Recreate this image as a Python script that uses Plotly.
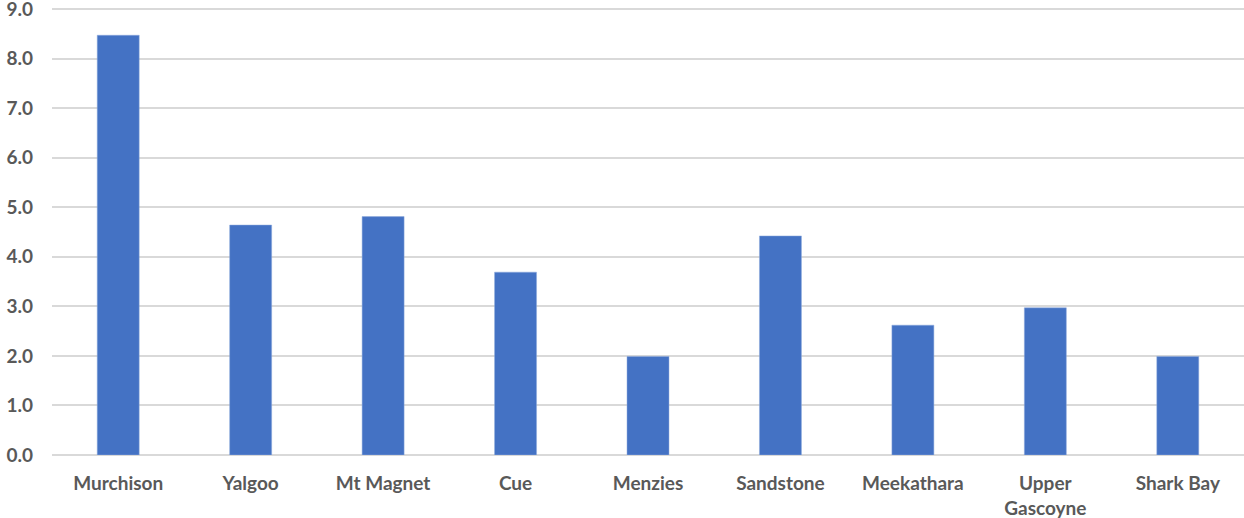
import plotly.graph_objects as go

categories = ["Murchison", "Yalgoo", "Mt Magnet", "Cue", "Menzies", "Sandstone",
              "Meekathara", "Upper<br>Gascoyne", "Shark Bay"]
values = [8.47, 4.64, 4.81, 3.69, 1.99, 4.42, 2.62, 2.97, 1.99]
y_ticks = [0, 1, 2, 3, 4, 5, 6, 7, 8, 9]

fig = go.Figure(go.Bar(
    x=categories, y=values,
    marker=dict(color="#4472C4", line=dict(color="#8faadc", width=0.5)),
))

tf = dict(family="Lato, sans-serif", size=19, color="#595959", weight="bold")
fig.update_layout(
    width=1244, height=518,
    margin=dict(l=52, r=0, t=6, b=63),
    paper_bgcolor="white", plot_bgcolor="white",
    bargap=0.683,
    showlegend=False,
)
fig.update_yaxes(
    range=[0, 9.06], tickvals=y_ticks, ticktext=[f"{v:.1f}" for v in y_ticks],
    showgrid=True, gridcolor="#D9D9D9", gridwidth=1.5,
    zeroline=True, zerolinecolor="#D9D9D9", zerolinewidth=1.5,
    showline=False, ticks="", ticklabelstandoff=18, automargin=False,
    ticklabeloverflow="allow",
    tickfont=tf,
)
fig.update_xaxes(
    showgrid=False, showline=False, ticks="", automargin=False,
    ticklabelstandoff=15, ticklabeloverflow="allow",
    tickfont=tf,
)
fig.write_html("out.html", config={"displayModeBar": False},
               post_script="document.body.style.margin='0';")
